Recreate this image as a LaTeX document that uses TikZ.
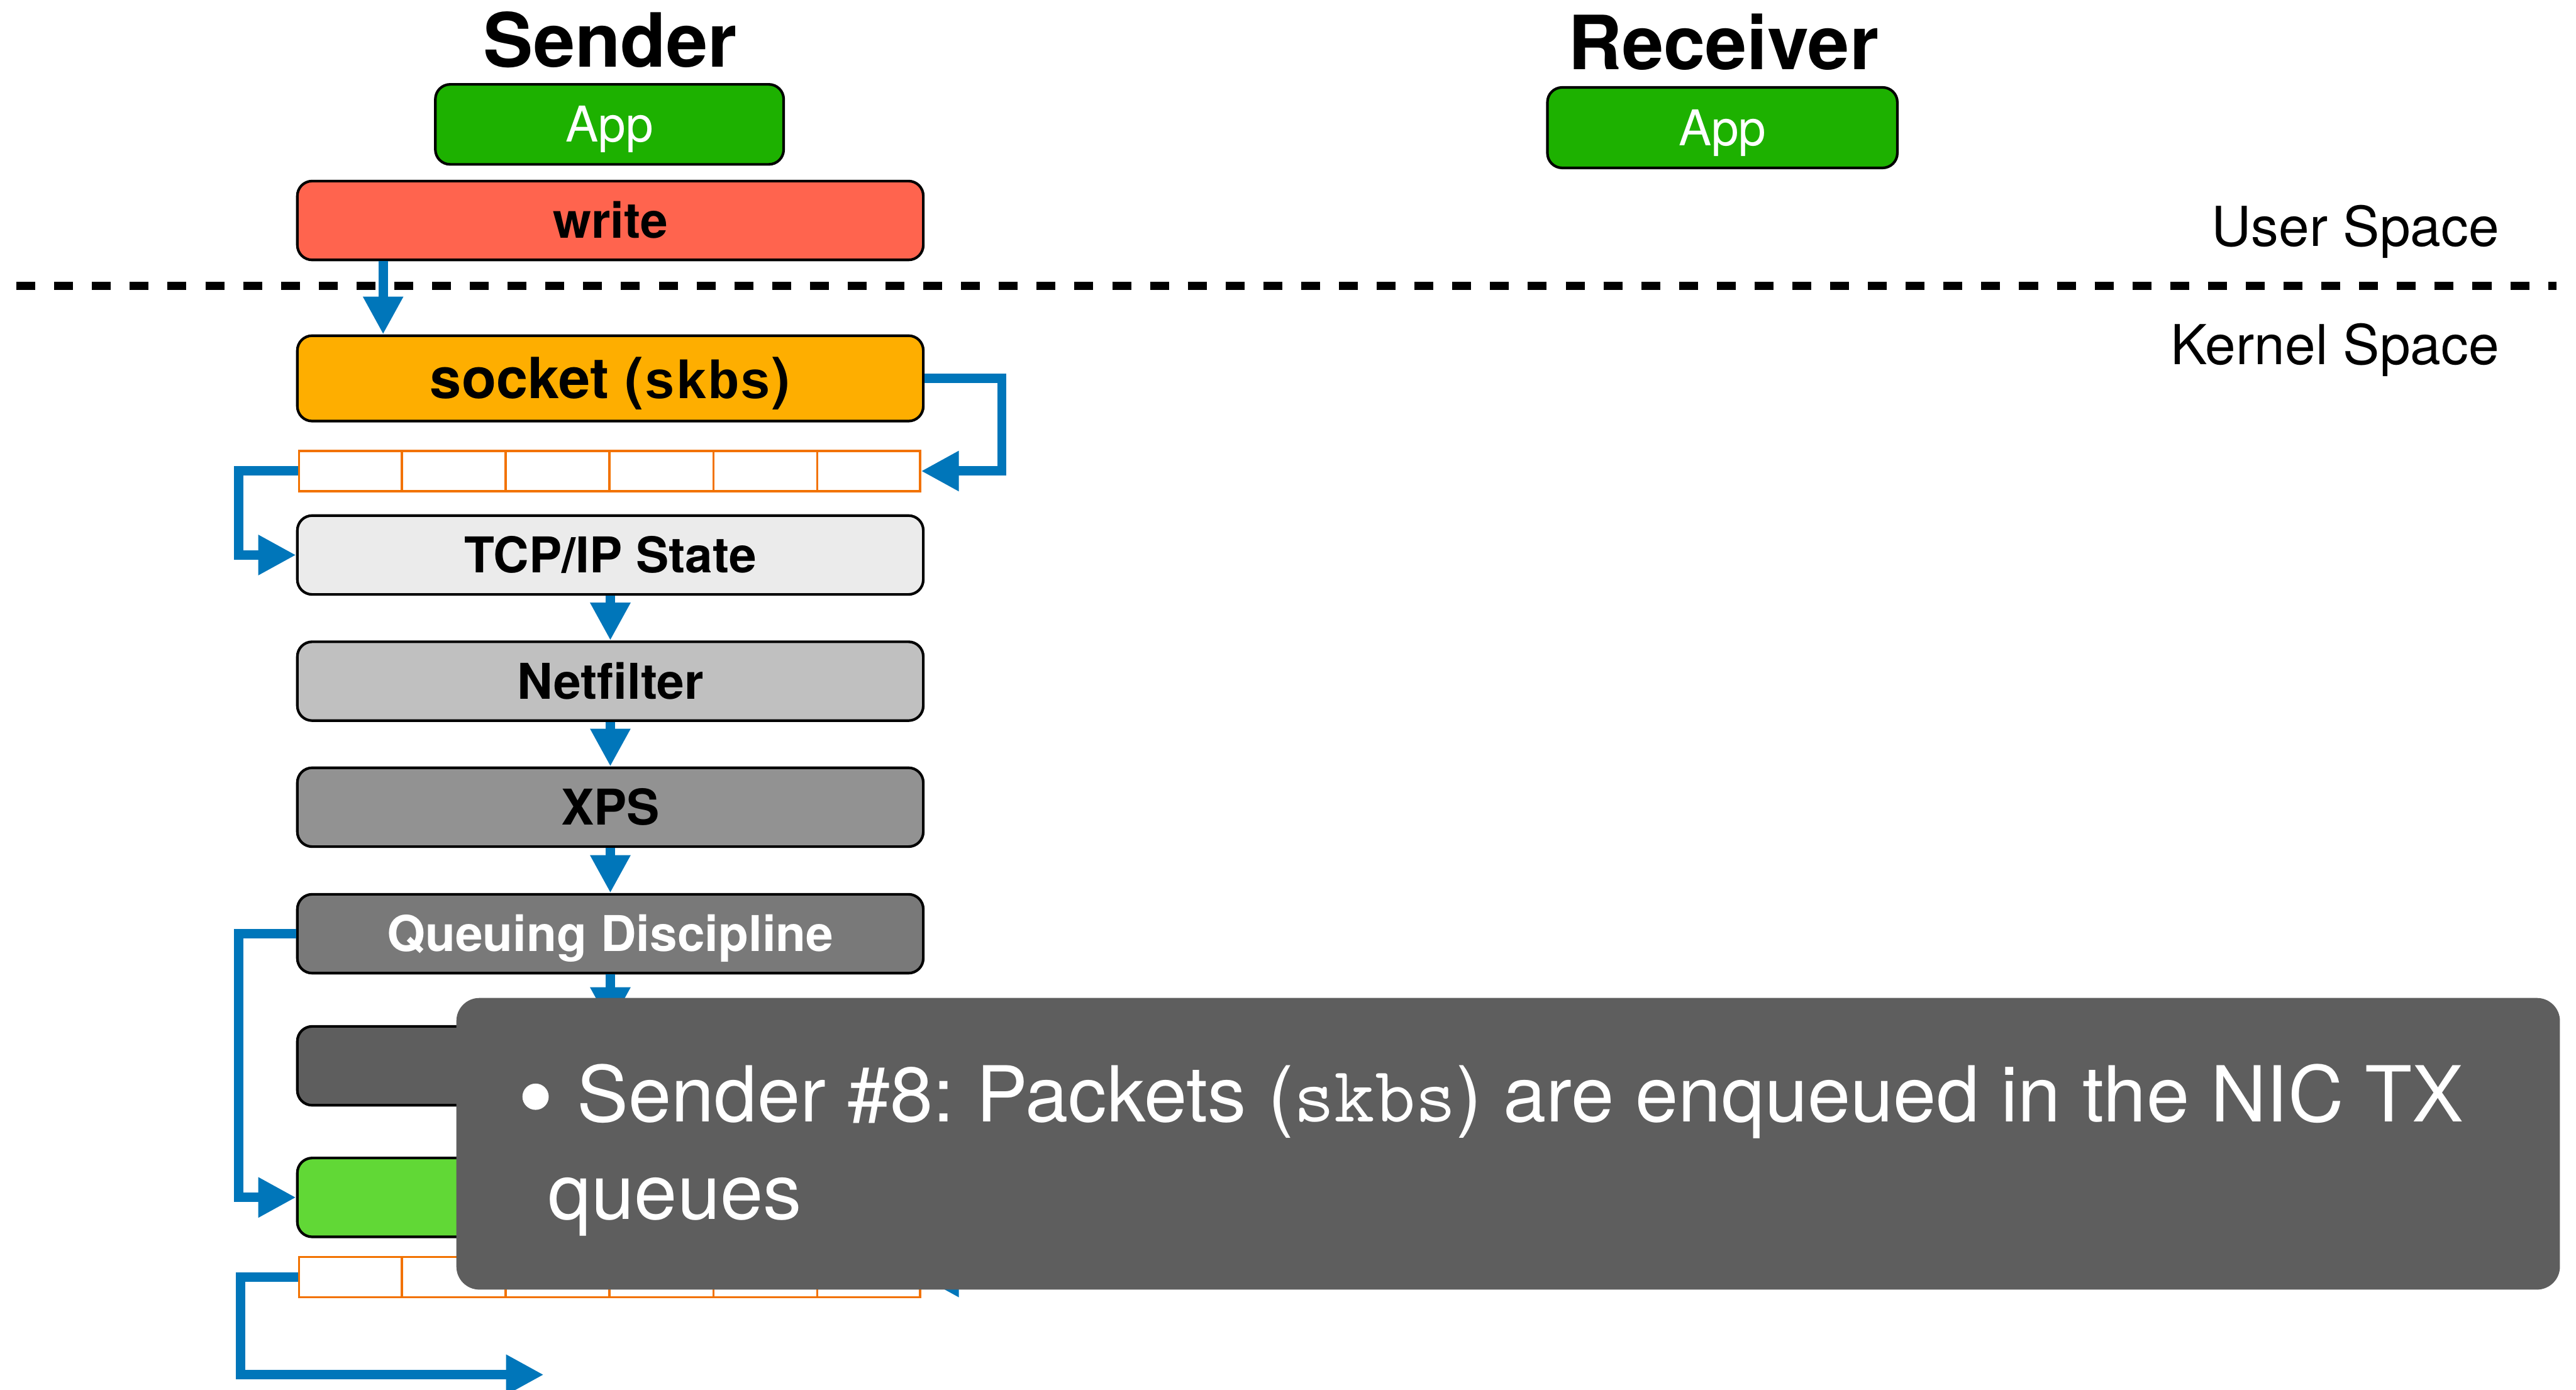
\documentclass[tikz,border=0pt]{standalone}
\usepackage{fontspec}
\setmainfont{TeX Gyre Heros}
\newfontfamily\monofont{Liberation Mono}
\usetikzlibrary{arrows.meta,calc}
\frenchspacing

\definecolor{appgreen}{HTML}{1DB100}
\definecolor{writered}{HTML}{FF644E}
\definecolor{sockorange}{HTML}{FEAE00}
\definecolor{tcpgray}{HTML}{EBEBEB}
\definecolor{nfgray}{HTML}{C0C0C0}
\definecolor{xpsgray}{HTML}{929292}
\definecolor{qdgray}{HTML}{797979}
\definecolor{drvgray}{HTML}{5E5E5E}
\definecolor{nicgreen}{HTML}{61D836}
\definecolor{bufline}{HTML}{F27200}
\definecolor{flowblue}{HTML}{0076BA}
\definecolor{notegray}{HTML}{5E5E5E}

\begin{document}
\begin{tikzpicture}[x=1pt,y=-1pt,
  stage/.style={draw=black, line width=1.6pt, rounded corners=9pt,
    minimum width=381pt, minimum height=48pt, inner sep=0pt,
    text height=21.5pt, text depth=0pt,
    font=\fontsize{30}{30}\selectfont\bfseries},
  appbox/.style={stage, fill=appgreen, minimum width=212pt, text=white,
    font=\fontsize{30}{30}\selectfont},
  buffer/.style={draw=bufline, line width=1.3pt, minimum width=378pt,
    minimum height=24.5pt, inner sep=0pt},
  cellwall/.style={draw=bufline, line width=1.3pt},
  flow/.style={draw=flowblue, line width=5.7pt,
    -{Triangle[length=23pt,width=23pt]}},
  title/.style={font=\fontsize{45.5}{45.5}\selectfont\bfseries, anchor=base,
    inner sep=0pt},
  region/.style={font=\fontsize{33.5}{33.5}\selectfont, anchor=base east,
    inner sep=0pt},
  notetext/.style={font=\fontsize{47}{47}\selectfont, text=white,
    anchor=base west, inner sep=0pt},
]
\useasboundingbox (0,0) rectangle (1568,846);

% column titles
\node[title] (sendtitle) at (371.5,40.8) {Sender};
\node[title] (recvtitle) at (1049,42.3) {Receiver};

% user / kernel boundary
\draw[line width=4.8pt, dash pattern=on 11.5pt off 11.5pt] (10,174) -- (1556,174);
\node[region] (userlbl) at (1521.4,150) {User Space};
\node[region] (kernlbl) at (1521.4,222) {Kernel Space};

% user space
\node[appbox, minimum height=48.7pt] (sapp) at (371,75.7) {App};
\node[appbox, minimum height=49pt, minimum width=213pt] (rapp) at (1048.4,77.7) {App};
\node[stage, fill=writered] (write) at (371.5,134.2) {write};

% sender kernel stack
\node[stage, fill=sockorange, minimum height=52pt, text height=24.4pt,
  font=\fontsize{34.5}{34.5}\selectfont\bfseries] (socket) at (371.5,230.3)
  {socket ({\monofont\fontsize{32.5}{32.5}\selectfont\bfseries skbs})};
\node[buffer] (q1) at (371,286.7) {};
\node[stage, fill=tcpgray] (tcp) at (371.5,337.8) {TCP/IP State};
\node[stage, fill=nfgray] (nf) at (371.5,414.6) {Netfilter};
\node[stage, fill=xpsgray] (xps) at (371.5,491.3) {XPS};
\node[stage, fill=qdgray, text=white] (qd) at (371.5,568.3) {Queuing Discipline};
\node[stage, fill=drvgray] (drv) at (371.5,648.7) {};
\node[stage, fill=nicgreen] (nic) at (371.5,728.8) {};
\node[buffer] (q2) at (371,777.2) {};

% ring buffer cells
\foreach \q in {q1,q2}{
  \foreach \i in {1,...,5}{
    \draw[cellwall] ($(\q.north west)!\i/6!(\q.north east)$) --
                    ($(\q.south west)!\i/6!(\q.south east)$);
  }
}

% data path
\coordinate (out) at (331,836.7);
\draw[flow] ([xshift=53pt]write.south west) -- ([xshift=53pt]socket.north west);
\draw[flow] (socket.east) -- ++(47,0) |- (q1.east);
\draw[flow] (q1.west) -- ++(-36,0) |- (tcp.west);
\draw[flow] (tcp.south) -- (nf.north);
\draw[flow] (nf.south) -- (xps.north);
\draw[flow] (xps.south) -- (qd.north);
\draw[flow] (qd.south) -- (drv.north);
\draw[flow] (qd.west) -- ++(-35,0) |- (nic.west);
\draw[flow] (nic.east) -- ++(47,0) |- (q2.east);
\draw[flow] (q2.west) -- ++(-35,0) |- (out);

% callout
\node[fill=notegray, rounded corners=14pt, minimum width=1280.4pt,
  minimum height=177.5pt, inner sep=0pt, anchor=north west] (note) at (277.6,607.2) {};
\node[circle, fill=white, minimum size=16pt, inner sep=0pt] (bullet) at (326,667.5) {};
\node[notetext] (noteline1) at (351,682.7)
  {Sender \#8: Packets ({\ttfamily\fontsize{48}{48}\selectfont skbs}) are enqueued in the NIC TX};
\node[notetext] (noteline2) at (333.5,742) {queues};
\end{tikzpicture}
\end{document}
